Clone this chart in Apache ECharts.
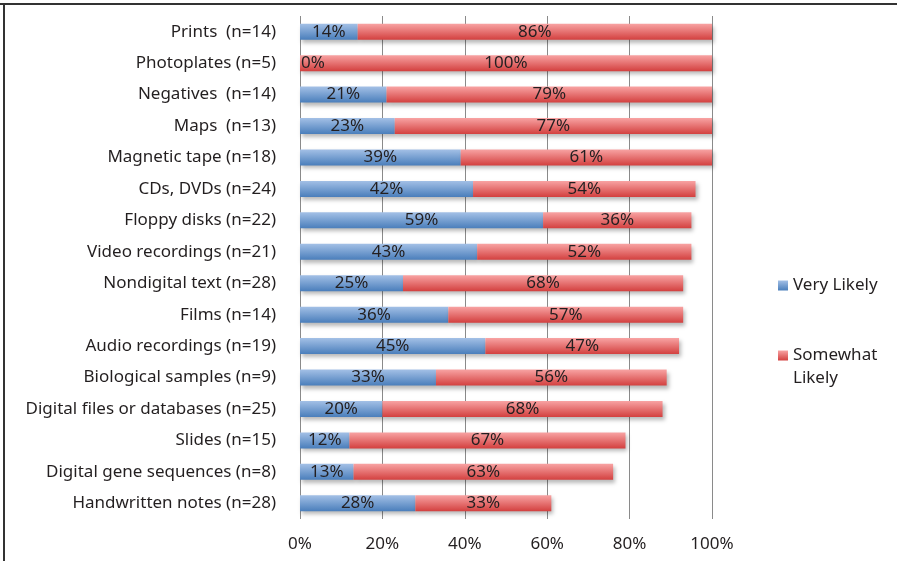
<!DOCTYPE html>
<html>
<head>
<meta charset="utf-8">
<script src="https://cdn.jsdelivr.net/npm/echarts@6/dist/echarts.min.js"></script>
<style>html,body{margin:0;padding:0;background:#fff}#c{width:897px;height:561px}</style>
</head>
<body>
<div id="c"></div>
<script>
const categories = [
  "Prints  (n=14)", "Photoplates (n=5)", "Negatives  (n=14)", "Maps  (n=13)",
  "Magnetic tape (n=18)", "CDs, DVDs (n=24)", "Floppy disks (n=22)", "Video recordings (n=21)",
  "Nondigital text (n=28)", "Films (n=14)", "Audio recordings (n=19)", "Biological samples (n=9)",
  "Digital files or databases (n=25)", "Slides (n=15)", "Digital gene sequences (n=8)", "Handwritten notes (n=28)"
];
const veryLikely = [14, 0, 21, 23, 39, 42, 59, 43, 25, 36, 45, 33, 20, 12, 13, 28];
const somewhatLikely = [86, 100, 79, 77, 61, 54, 36, 52, 68, 57, 47, 56, 68, 67, 63, 33];
const xTicks = [0, 20, 40, 60, 80, 100];

const FONT = "'Noto Sans', sans-serif";
const TXT = '#231f20';
const FS = 17;

const chart = echarts.init(document.getElementById('c'), null, {renderer: 'canvas'});

function grad(top, bottom) {
  return new echarts.graphic.LinearGradient(0, 0, 0, 1, [
    {offset: 0, color: top}, {offset: 1, color: bottom}
  ]);
}
const blue = grad('#a3c0e6', '#4a7ebb');
const red = grad('#f8a3a3', '#d3403f');

const labelBase = {show: true, position: 'inside', color: TXT, fontSize: FS, fontFamily: FONT, formatter: '{c}%'};

chart.setOption({
  animation: false,
  textStyle: {fontFamily: FONT},
  grid: {left: 300, right: 185, top: 16, bottom: 42, containLabel: false},
  xAxis: {
    type: 'value', min: xTicks[0], max: xTicks[xTicks.length - 1], interval: 20,
    axisLine: {show: false}, axisTick: {show: false},
    splitLine: {show: true, lineStyle: {color: '#8a8a8a', width: 1}},
    axisLabel: {formatter: '{value}%', color: TXT, fontSize: FS, fontFamily: FONT, margin: 17}
  },
  yAxis: {
    type: 'category', data: categories, inverse: true,
    axisLine: {show: false}, axisTick: {show: false},
    axisLabel: {color: TXT, fontSize: FS, fontFamily: FONT, margin: 24}
  },
  legend: [
    {
      data: ['Very Likely'], orient: 'vertical', left: 778, top: 277, padding: 0,
      icon: 'rect', itemWidth: 10, itemHeight: 10,
      textStyle: {color: TXT, fontSize: FS, fontFamily: FONT}
    },
    {
      data: ['Somewhat Likely'], orient: 'vertical', left: 778, top: 321, padding: 0,
      icon: 'rect', itemWidth: 10, itemHeight: 10,
      formatter: () => '\nSomewhat\nLikely',
      textStyle: {color: TXT, fontSize: FS, fontFamily: FONT, lineHeight: 23}
    }
  ],
  series: [
    {
      name: 'Very Likely', type: 'bar', stack: 'total', barWidth: 16,
      itemStyle: {color: blue, shadowColor: 'rgba(0,0,0,0.28)', shadowBlur: 4, shadowOffsetX: 2, shadowOffsetY: 3},
      label: labelBase,
      data: veryLikely.map(v => v === 0
        ? {value: v, label: {position: 'insideLeft', offset: [-4, 0]}}
        : v)
    },
    {
      name: 'Somewhat Likely', type: 'bar', stack: 'total', barWidth: 16,
      itemStyle: {color: red, shadowColor: 'rgba(0,0,0,0.28)', shadowBlur: 4, shadowOffsetX: 2, shadowOffsetY: 3},
      label: labelBase,
      data: somewhatLikely
    }
  ],
  graphic: [
    {type: 'line', shape: {x1: 0, y1: 4, x2: 897, y2: 4}, style: {stroke: '#333', lineWidth: 2}},
    {type: 'line', shape: {x1: 4, y1: 3, x2: 4, y2: 561}, style: {stroke: '#333', lineWidth: 2}}
  ]
});
</script>
</body>
</html>
